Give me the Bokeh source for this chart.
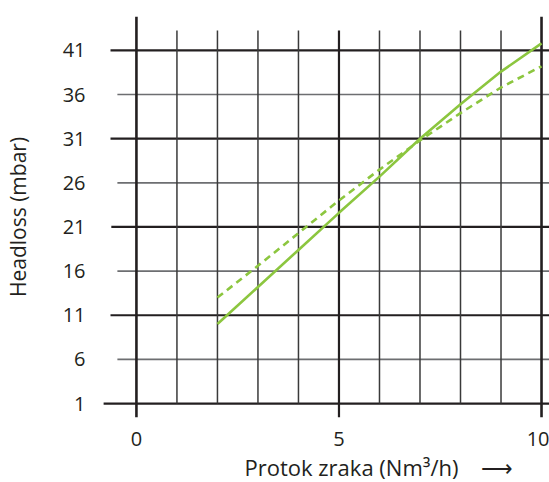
from bokeh.plotting import figure
from bokeh.models import Range1d, LinearAxis, FixedTicker, Title
from bokeh.embed import file_html
from bokeh.resources import INLINE

# ---- data ----
flow = [2, 3, 4, 5, 6, 7, 8, 9, 10]
headloss_solid = [10.0, 14.2, 18.4, 22.6, 26.7, 31.0, 34.9, 38.6, 41.8]
headloss_dashed = [13.0, 16.6, 20.3, 24.0, 27.5, 30.8, 33.9, 36.8, 39.2]
x_ticks = [0, 5, 10]
x_minor = [1, 2, 3, 4, 6, 7, 8, 9]
y_major = [1, 11, 21, 31, 41]
y_minor = [6, 16, 26, 36]
x_title = "Protok zraka (Nm³/h)"
arrow = "⟶"
y_title = "Headloss (mbar)"

# ---- style / layout ----
FONT = "Open Sans"
GREEN = "#8cc63f"
DARK = "#231f20"
GRAY = "#6d6e71"
X0, X1 = -0.813, 10.197
Y0, Y1 = -0.582, 44.84
Y_MINOR_TOP = 43.26

p = figure(width=549, height=482, output_backend="svg", toolbar_location=None,
           x_range=Range1d(X0, X1), y_range=Range1d(Y0, Y1),
           min_border_left=102, min_border_right=0, min_border_top=16,
           min_border_bottom=64, x_axis_location=None, y_axis_location=None)
p.outline_line_color = None
p.xgrid.visible = False
p.ygrid.visible = False
p.background_fill_color = "white"
p.border_fill_color = "white"

# horizontal grid lines
p.segment(x0=[-0.47] * len(y_minor), y0=y_minor, x1=[X1] * len(y_minor), y1=y_minor,
          line_color=GRAY, line_width=1.6)
p.segment(x0=[-0.82, -0.64, -0.62, -0.64, -0.64], y0=y_major, x1=[X1] * len(y_major), y1=y_major,
          line_color=DARK, line_width=2.2)
# vertical grid lines
p.segment(x0=x_minor, y0=[y_major[0]] * len(x_minor), x1=x_minor, y1=[Y_MINOR_TOP] * len(x_minor),
          line_color="#3a3a3a", line_width=1.5)
p.segment(x0=[x_ticks[1]], y0=[Y0], x1=[x_ticks[1]], y1=[Y_MINOR_TOP],
          line_color=DARK, line_width=2.2)
p.segment(x0=[x_ticks[0], x_ticks[2]], y0=[Y0, Y0], x1=[x_ticks[0], x_ticks[2]], y1=[Y1, Y1],
          line_color=DARK, line_width=2.6)

# curves
p.line(flow, headloss_solid, line_color=GREEN, line_width=2.6)
p.line(flow, headloss_dashed, line_color=GREEN, line_width=2.6, line_dash="7 5")

# axes (labels only)
xa = LinearAxis(ticker=FixedTicker(ticks=x_ticks))
ya = LinearAxis(ticker=FixedTicker(ticks=y_major + y_minor))
for ax in (xa, ya):
    ax.axis_line_color = None
    ax.major_tick_line_color = None
    ax.minor_tick_line_color = None
    ax.major_label_text_font = FONT
    ax.major_label_text_font_size = "20px"
    ax.major_label_text_color = DARK
xa.major_label_standoff = 8
ya.major_label_standoff = 12
ya.axis_label = y_title
ya.axis_label_text_font = FONT
ya.axis_label_text_font_size = "21px"
ya.axis_label_text_font_style = "normal"
ya.axis_label_text_color = DARK
ya.axis_label_standoff = 28
p.add_layout(xa, "below")
p.add_layout(ya, "left")

t = Title(text=x_title + "\u00a0" * 4 + arrow, align="left", offset=141,
          text_font=FONT, text_font_size="22px", text_font_style="normal",
          text_color=DARK, standoff=2)
p.add_layout(t, "below")

open("out.html", "w").write(file_html(p, INLINE))
